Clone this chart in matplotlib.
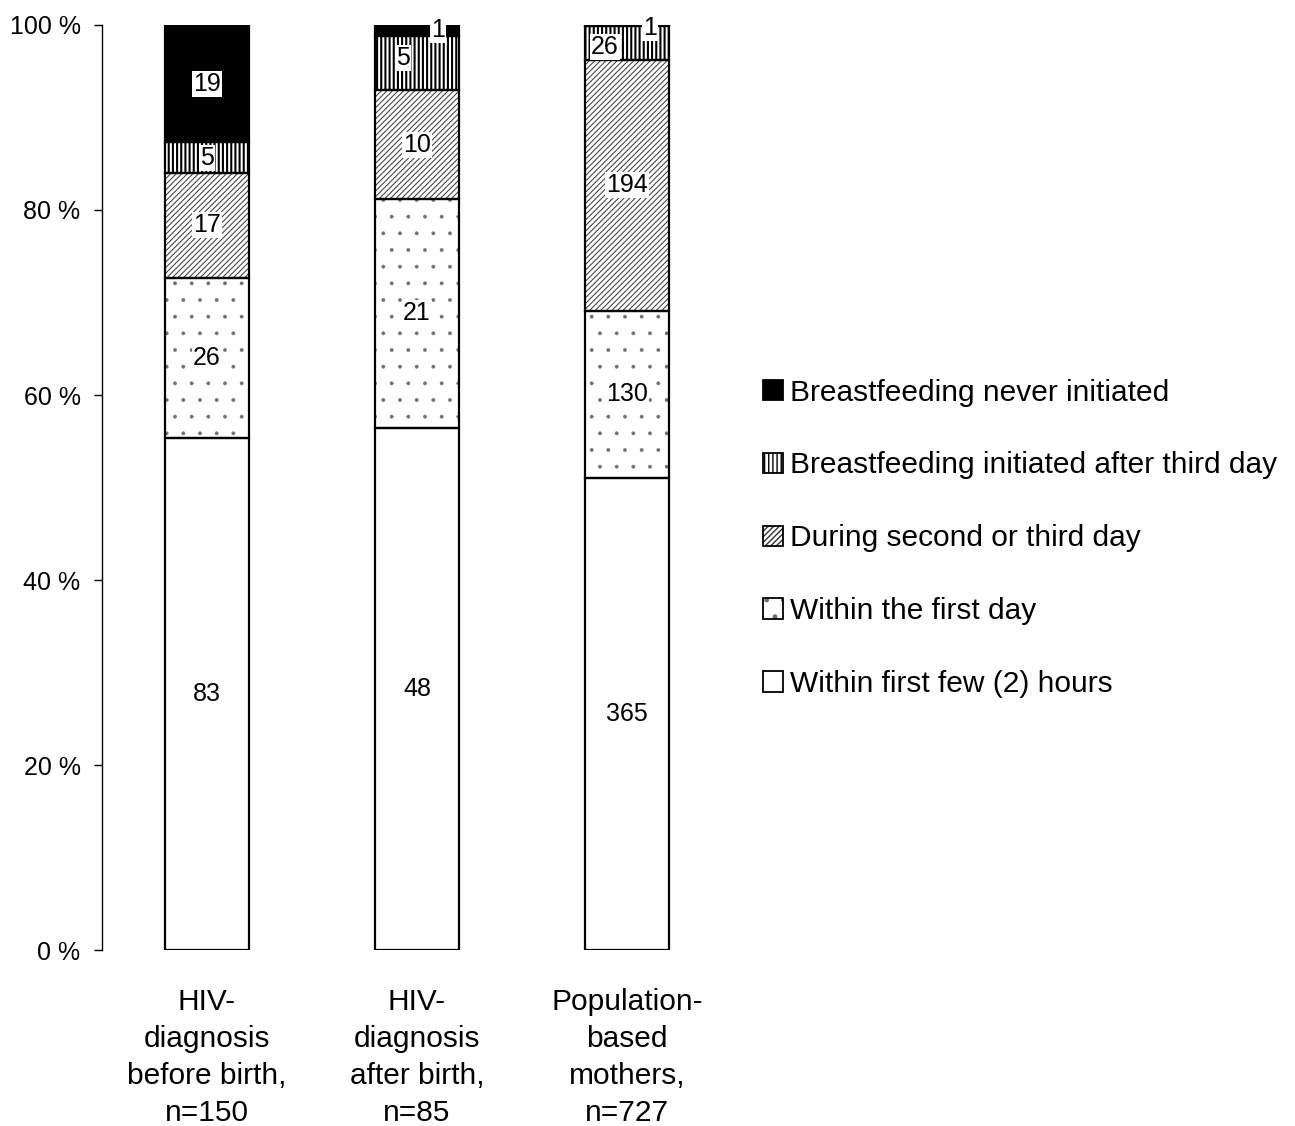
import numpy as np
import matplotlib as mpl
import matplotlib.pyplot as plt
from matplotlib.patches import Patch
from matplotlib.legend_handler import HandlerTuple

plt.rcParams['font.family'] = ['Liberation Sans', 'DejaVu Sans']

# data: counts per group, stacked bottom -> top
categories = ["HIV-\ndiagnosis\nbefore birth,\nn=150",
              "HIV-\ndiagnosis\nafter birth,\nn=85",
              "Population-\nbased\nmothers,\nn=727"]
series_names = ["Within first few (2) hours",
                "Within the first day",
                "During second or third day",
                "Breastfeeding initiated after third day",
                "Breastfeeding never initiated"]
first_hours = [83, 48, 365]
first_day = [26, 21, 130]
second_third = [17, 10, 194]
after_third = [5, 5, 26]
never = [19, 1, 1]
yticks = [0, 20, 40, 60, 80, 100]

counts = np.array([first_hours, first_day, second_third, after_third, never], dtype=float)
pct = counts / counts.sum(axis=0) * 100

# (facecolor, hatch, hatch colour, hatch linewidth)
styles = [
    ('white', None, 'black', 1.0),
    ('white', '.', '#707070', 0.3),
    ('white', '//////', '#333333', 0.7),
    ('white', '||||', 'black', 1.5),
    ('black', None, 'black', 1.0),
]

# small label nudges for thin segments: (series, category) -> (dx, dy)
nudges = {(3, 1): (-0.067, 0.5), (4, 1): (0.10, 0.0),
          (3, 2): (-0.105, -0.4), (4, 2): (0.11, -0.3)}

fig = plt.figure(figsize=(12.95, 11.26), dpi=100)
ax = fig.add_axes([0.0788, 0.1563, 0.4865, 0.8215])

x = np.arange(len(categories))
width = 0.4
bottom = np.zeros(len(categories))
legend_handles = []
for i, (name, (fc, hatch, hc, hlw)) in enumerate(zip(series_names, styles)):
    mpl.rcParams['hatch.linewidth'] = hlw
    bars = ax.bar(x, pct[i], width, bottom=bottom, color=fc, edgecolor=hc,
                  hatch=hatch, linewidth=0, zorder=2)
    for b in bars:
        if hasattr(b, 'set_hatch_linewidth'):
            b.set_hatch_linewidth(hlw)
    ax.bar(x, pct[i], width, bottom=bottom, fill=False, edgecolor='black',
           linewidth=1.6, zorder=3)
    p1 = Patch(facecolor=fc, edgecolor=hc, hatch=hatch, linewidth=0)
    if hasattr(p1, 'set_hatch_linewidth'):
        p1.set_hatch_linewidth(hlw)
    p2 = Patch(fill=False, edgecolor='black', linewidth=1.3)
    legend_handles.append((p1, p2))

    for j in range(len(categories)):
        dx, dy = nudges.get((i, j), (0, 0))
        ax.text(x[j] + dx, bottom[j] + pct[i][j] / 2 + dy, f"{int(counts[i][j])}",
                ha='center', va='center', fontsize=18, zorder=4,
                bbox=dict(facecolor='white', edgecolor='none', pad=0.8))
    bottom += pct[i]

ax.set_xlim(-0.5, 2.5)
ax.set_ylim(0, 100)
ax.set_yticks(yticks)
ax.set_yticklabels([f"{t} %" for t in yticks], fontsize=18)
ax.set_xticks(x)
ax.set_xticklabels(categories, fontsize=21.5, linespacing=1.42)
ax.tick_params(axis='x', length=0, pad=27)
ax.tick_params(axis='y', length=6, width=1, pad=9.5, direction='out')
for s in ['top', 'right', 'bottom']:
    ax.spines[s].set_visible(False)
ax.spines['left'].set_linewidth(1)

fig.legend(legend_handles[::-1], series_names[::-1],
           handler_map={tuple: HandlerTuple(ndivide=1)},
           loc='center left', bbox_to_anchor=(0.589, 0.522), frameon=False,
           fontsize=21.5, handlelength=0.68, handleheight=0.68,
           handletextpad=0.23, labelspacing=1.5, borderpad=0,
           borderaxespad=0)

fig.savefig('out.png', dpi=100)
